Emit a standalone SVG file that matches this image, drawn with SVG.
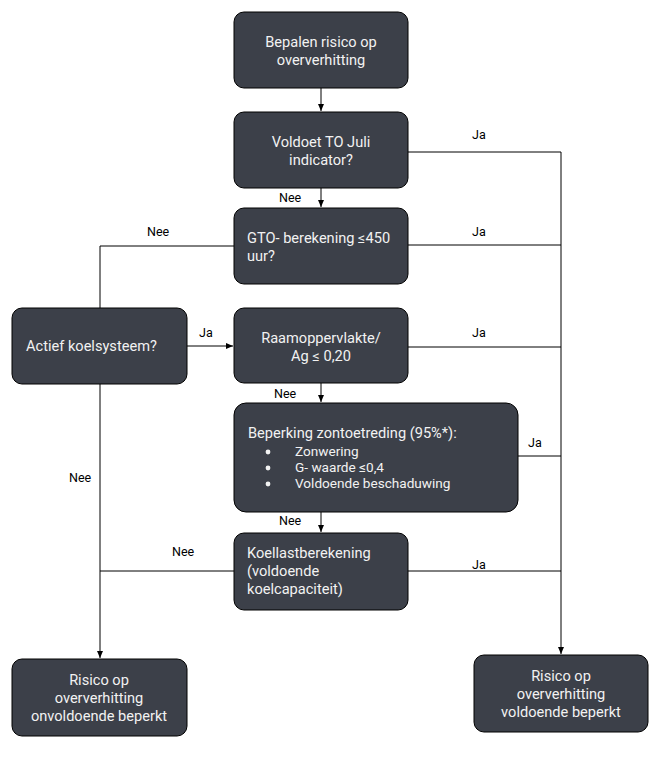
<svg xmlns="http://www.w3.org/2000/svg" width="669" height="763" viewBox="0 0 669 763">
<defs>
<marker id="ah" markerWidth="8" markerHeight="8" refX="7" refY="4" orient="auto" markerUnits="userSpaceOnUse">
<path d="M0,1 L7,4 L0,7 Z" fill="#000"/>
</marker>
<style>
.box{fill:#3c4049;stroke:#000;stroke-width:1}
.t{font-family:Roboto,"Liberation Sans",sans-serif;font-size:14.6px;fill:#f2f2f2}
.c{text-anchor:middle}
.b{font-size:13.6px}
.l{font-family:Roboto,"Liberation Sans",sans-serif;font-size:12.5px;fill:#000}
.ln{fill:none;stroke:#000;stroke-width:1}
</style>
</defs>
<rect width="669" height="763" fill="#fff"/>
<g id="connectors">
<path class="ln" d="M321,88 V111" marker-end="url(#ah)"/>
<path class="ln" d="M408,152 H561 V654" marker-end="url(#ah)"/>
<path class="ln" d="M321,188 V207" marker-end="url(#ah)"/>
<path class="ln" d="M408,245 H561"/>
<path class="ln" d="M234,246 H100 V308"/>
<path class="ln" d="M187,346 H233" marker-end="url(#ah)"/>
<path class="ln" d="M408,347 H561"/>
<path class="ln" d="M321,383 V402" marker-end="url(#ah)"/>
<path class="ln" d="M518,456 H561"/>
<path class="ln" d="M321,512 V532" marker-end="url(#ah)"/>
<path class="ln" d="M234,571 H100"/>
<path class="ln" d="M408,571 H561"/>
<path class="ln" d="M100,384 V658" marker-end="url(#ah)"/>
<text class="l" x="472" y="139">Ja</text>
<text class="l" x="279" y="202">Nee</text>
<text class="l" x="472" y="236">Ja</text>
<text class="l" x="147" y="236">Nee</text>
<text class="l" x="199" y="337">Ja</text>
<text class="l" x="472" y="337">Ja</text>
<text class="l" x="274" y="398">Nee</text>
<text class="l" x="528" y="447">Ja</text>
<text class="l" x="279" y="525">Nee</text>
<text class="l" x="172" y="556">Nee</text>
<text class="l" x="472" y="569">Ja</text>
<text class="l" x="69" y="482">Nee</text>
</g>
<g id="n1">
<rect class="box" x="234" y="12" width="174" height="76" rx="10"/>
<text class="t c" x="321" y="47">Bepalen risico op</text>
<text class="t c" x="321" y="65">oververhitting</text>
</g>
<g id="n2">
<rect class="box" x="234" y="112" width="174" height="76" rx="10"/>
<text class="t c" x="321" y="147">Voldoet TO Juli</text>
<text class="t c" x="321" y="165">indicator?</text>
</g>
<g id="n3">
<rect class="box" x="234" y="208" width="174" height="76" rx="10"/>
<text class="t" x="247" y="243">GTO- berekening ≤450</text>
<text class="t" x="247" y="261">uur?</text>
</g>
<g id="n4">
<rect class="box" x="12" y="308" width="175" height="76" rx="10"/>
<text class="t" x="26" y="351">Actief koelsysteem?</text>
</g>
<g id="n5">
<rect class="box" x="234" y="308" width="174" height="75" rx="10"/>
<text class="t c" x="321" y="343">Raamoppervlakte/</text>
<text class="t c" x="321" y="361">Ag ≤ 0,20</text>
</g>
<g id="n6">
<rect class="box" x="234" y="403" width="284" height="109" rx="12"/>
<text class="t" x="248" y="438">Beperking zontoetreding (95%*):</text>
<circle cx="268" cy="452" r="2.4" fill="#f2f2f2"/>
<circle cx="268" cy="468" r="2.4" fill="#f2f2f2"/>
<circle cx="268" cy="484" r="2.4" fill="#f2f2f2"/>
<text class="t b" x="295" y="456">Zonwering</text>
<text class="t b" x="295" y="472">G- waarde ≤0,4</text>
<text class="t b" x="295" y="488">Voldoende beschaduwing</text>
</g>
<g id="n7">
<rect class="box" x="234" y="533" width="174" height="77" rx="10"/>
<text class="t" x="247" y="558">Koellastberekening</text>
<text class="t" x="247" y="576">(voldoende</text>
<text class="t" x="247" y="594">koelcapaciteit)</text>
</g>
<g id="n8">
<rect class="box" x="12" y="659" width="175" height="77" rx="10"/>
<text class="t c" x="99" y="685">Risico op</text>
<text class="t c" x="99" y="703">oververhitting</text>
<text class="t c" x="99" y="721">onvoldoende beperkt</text>
</g>
<g id="n9">
<rect class="box" x="474" y="655" width="174" height="77" rx="10"/>
<text class="t c" x="561" y="681">Risico op</text>
<text class="t c" x="561" y="699">oververhitting</text>
<text class="t c" x="561" y="717">voldoende beperkt</text>
</g>
</svg>
